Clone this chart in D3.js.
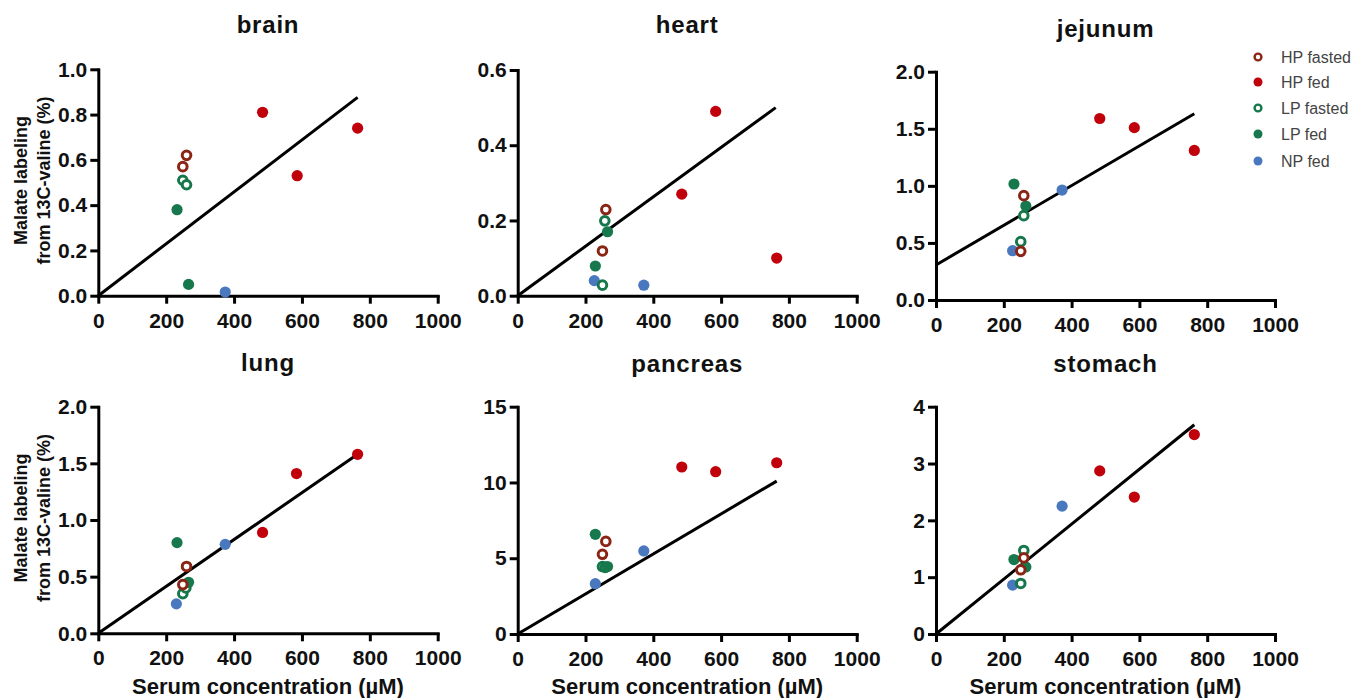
<!DOCTYPE html>
<html>
<head>
<meta charset="utf-8">
<script src="https://cdn.jsdelivr.net/npm/d3@7"></script>
<style>
  html, body { margin: 0; padding: 0; background: #fff; }
  svg { display: block; font-family: "Liberation Sans", Arial, sans-serif; }
</style>
</head>
<body>
<svg id="chart" width="1352" height="698"></svg>
<script>
// ---------------- DATA ----------------
const panelNames = ["brain", "heart", "jejunum", "lung", "pancreas", "stomach"];
const groups = ["HP fasted", "HP fed", "LP fasted", "LP fed", "NP fed"];
const xTicks = [0, 200, 400, 600, 800, 1000];
const yMaxes = [1.0, 0.6, 2.0, 2.0, 15, 4];
const yTickValues = [
  [0, 0.2, 0.4, 0.6, 0.8, 1.0],
  [0, 0.2, 0.4, 0.6],
  [0, 0.5, 1.0, 1.5, 2.0],
  [0, 0.5, 1.0, 1.5, 2.0],
  [0, 5, 10, 15],
  [0, 1, 2, 3, 4]
];
const yTickLabels = [
  ["0.0", "0.2", "0.4", "0.6", "0.8", "1.0"],
  ["0.0", "0.2", "0.4", "0.6"],
  ["0.0", "0.5", "1.0", "1.5", "2.0"],
  ["0.0", "0.5", "1.0", "1.5", "2.0"],
  ["0", "5", "10", "15"],
  ["0", "1", "2", "3", "4"]
];
// [group, serum concentration (µM), malate labeling (%)]
const brainPoints = [
  ["HP fasted", 260, 0.62], ["HP fasted", 249, 0.57],
  ["HP fed", 484, 0.81], ["HP fed", 586, 0.53], ["HP fed", 764, 0.74],
  ["LP fasted", 249, 0.51], ["LP fasted", 260, 0.49],
  ["LP fed", 232, 0.38], ["LP fed", 266, 0.05],
  ["NP fed", 374, 0.016]
];
const heartPoints = [
  ["HP fasted", 260, 0.229], ["HP fasted", 250, 0.119],
  ["HP fed", 484, 0.27], ["HP fed", 584, 0.49], ["HP fed", 764, 0.10],
  ["LP fasted", 257, 0.199], ["LP fasted", 250, 0.028],
  ["LP fed", 265, 0.17], ["LP fed", 229, 0.079],
  ["NP fed", 226, 0.04], ["NP fed", 372, 0.028]
];
const jejunumPoints = [
  ["HP fasted", 259, 0.914], ["HP fasted", 250, 0.426],
  ["HP fed", 483, 1.59], ["HP fed", 585, 1.51], ["HP fed", 762, 1.31],
  ["LP fasted", 259, 0.739], ["LP fasted", 250, 0.511],
  ["LP fed", 230, 1.016], ["LP fed", 265, 0.823],
  ["NP fed", 372, 0.963], ["NP fed", 226, 0.432]
];
const lungPoints = [
  ["HP fasted", 260, 0.59], ["HP fasted", 249, 0.43],
  ["HP fed", 764, 1.58], ["HP fed", 584, 1.41], ["HP fed", 484, 0.89],
  ["LP fasted", 249, 0.35], ["LP fasted", 258, 0.40],
  ["LP fed", 232, 0.80], ["LP fed", 266, 0.45],
  ["NP fed", 374, 0.785], ["NP fed", 230, 0.26]
];
const pancreasPoints = [
  ["HP fasted", 260, 6.11], ["HP fasted", 250, 5.26],
  ["HP fed", 484, 11.02], ["HP fed", 584, 10.71], ["HP fed", 764, 11.30],
  ["LP fasted", 250, 4.45], ["LP fasted", 258, 4.40],
  ["LP fed", 229, 6.58], ["LP fed", 265, 4.45],
  ["NP fed", 372, 5.48], ["NP fed", 229, 3.32]
];
const stomachPoints = [
  ["HP fasted", 259, 1.34], ["HP fasted", 250, 1.13],
  ["HP fed", 762, 3.51], ["HP fed", 483, 2.87], ["HP fed", 585, 2.41],
  ["LP fasted", 259, 1.47], ["LP fasted", 250, 0.89],
  ["LP fed", 230, 1.31], ["LP fed", 265, 1.18],
  ["NP fed", 372, 2.25], ["NP fed", 226, 0.86]
];
const panelPoints = [brainPoints, heartPoints, jejunumPoints, lungPoints, pancreasPoints, stomachPoints];
// regression lines: [x0, y0, x1, y1]
const fitLines = [
  [0, 0, 764, 0.876],
  [0, 0, 761, 0.50],
  [0, 0.307, 762, 1.632],
  [0, 0, 764, 1.58],
  [0, 0, 764, 10.09],
  [0, 0, 762, 3.683]
];

// ---------------- LAYOUT / STYLE ----------------
// plot boxes: [left, right, top, bottom]
const boxes = [
  [98.3, 437.7, 69.3, 295.7],
  [517.7, 856.7, 70, 295.7],
  [936, 1275, 71.7, 300],
  [98.3, 437.7, 406.7, 633.3],
  [517.7, 856.7, 406.7, 634],
  [936, 1275, 406.7, 634]
];
const titleBaselines = [33, 33, 37, 371, 372, 372];
const groupStyle = {
  "HP fasted": { color: "#8a2414", open: true },
  "HP fed":    { color: "#c0000b", open: false },
  "LP fasted": { color: "#15774a", open: true },
  "LP fed":    { color: "#16784c", open: false },
  "NP fed":    { color: "#4a78bf", open: false }
};
const drawOrder = ["NP fed", "LP fasted", "LP fed", "HP fed", "HP fasted"];

const svg = d3.select("#chart");
svg.append("rect").attr("width", 1352).attr("height", 698).attr("fill", "#fff");

panelNames.forEach((name, i) => {
  const [l, r, t, b] = boxes[i];
  const x = d3.scaleLinear().domain([0, 1000]).range([l, r]);
  const y = d3.scaleLinear().domain([0, yMaxes[i]]).range([b, t]);
  const g = svg.append("g");

  // title
  g.append("text")
    .attr("x", (l + r) / 2).attr("y", titleBaselines[i])
    .attr("text-anchor", "middle")
    .attr("font-size", 24).attr("font-weight", "bold")
    .attr("letter-spacing", 0.8)
    .attr("fill", "#111")
    .text(name);

  // x axis
  const xa = g.append("g").attr("transform", `translate(0,${b})`)
    .call(d3.axisBottom(x).tickValues(xTicks).tickSize(8).tickSizeOuter(0).tickPadding(9).tickFormat(d3.format("d")));
  // y axis
  const labels = yTickLabels[i];
  const ya = g.append("g").attr("transform", `translate(${l},0)`)
    .call(d3.axisLeft(y).tickValues(yTickValues[i]).tickSize(8).tickSizeOuter(0).tickPadding(3)
      .tickFormat((d, k) => labels[k]));
  [xa, ya].forEach(a => {
    a.select(".domain").attr("stroke", "#000").attr("stroke-width", 3).attr("stroke-linecap", "square");
    a.selectAll(".tick line").attr("stroke", "#000").attr("stroke-width", 3);
    a.selectAll(".tick text").attr("fill", "#111").attr("font-size", 21).attr("font-weight", "bold")
      .attr("font-family", "'Liberation Sans', Arial, sans-serif");
  });

  // fit line
  const f = fitLines[i];
  g.append("line")
    .attr("x1", x(f[0])).attr("y1", y(f[1]))
    .attr("x2", x(f[2])).attr("y2", y(f[3]))
    .attr("stroke", "#000").attr("stroke-width", 3);

  // points
  const pts = panelPoints[i].slice().sort((a, c) => drawOrder.indexOf(a[0]) - drawOrder.indexOf(c[0]));
  g.selectAll("circle.pt").data(pts).enter().append("circle")
    .attr("class", "pt")
    .attr("cx", d => x(d[1])).attr("cy", d => y(d[2]))
    .attr("r", d => groupStyle[d[0]].open ? 4.3 : 5.6)
    .attr("fill", d => groupStyle[d[0]].open ? "#fff" : groupStyle[d[0]].color)
    .attr("stroke", d => groupStyle[d[0]].open ? groupStyle[d[0]].color : "none")
    .attr("stroke-width", 3);

  // y label on left column
  if (i % 3 === 0) {
    const cy = (t + b) / 2 - 2;
    const yl = g.append("text")
      .attr("transform", `translate(27,${cy}) rotate(-90)`)
      .attr("text-anchor", "middle")
      .attr("font-size", 18).attr("font-weight", "bold").attr("fill", "#111");
    yl.append("tspan").attr("x", 0).attr("y", 0).text("Malate labeling");
    yl.append("tspan").attr("x", 0).attr("y", 23).text("from 13C-valine (%)");
  }
  // x label on bottom row
  if (i >= 3) {
    g.append("text")
      .attr("x", (l + r) / 2).attr("y", 694)
      .attr("text-anchor", "middle")
      .attr("font-size", 22).attr("font-weight", "bold").attr("fill", "#111")
      .text("Serum concentration (µM)");
  }
});

// legend
const legendY = [57, 82, 108, 134, 161];
const lg = svg.append("g");
groups.forEach((grp, k) => {
  const st = groupStyle[grp];
  lg.append("circle")
    .attr("cx", 1258).attr("cy", legendY[k])
    .attr("r", st.open ? 3.4 : 4.5)
    .attr("fill", st.open ? "#fff" : st.color)
    .attr("stroke", st.open ? st.color : "none")
    .attr("stroke-width", 2.4);
  lg.append("text")
    .attr("x", 1281).attr("y", legendY[k] + 6)
    .attr("font-size", 16).attr("fill", "#444")
    .text(grp);
});
</script>
</body>
</html>
